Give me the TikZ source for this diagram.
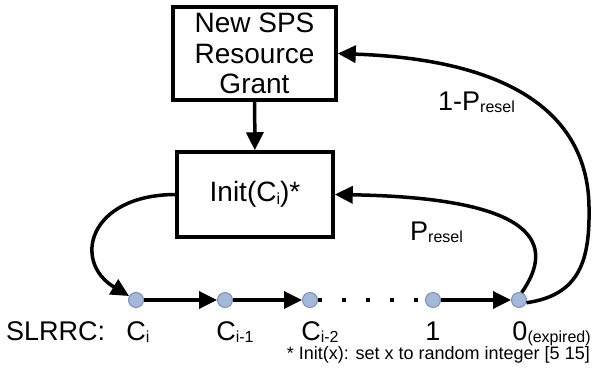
\documentclass[tikz,border=0pt]{standalone}
\usepackage{fontspec}
\setmainfont{Liberation Sans}
\usetikzlibrary{arrows.meta}
\definecolor{dotfill}{RGB}{164,184,216}
\definecolor{dotdraw}{RGB}{120,145,190}
\newcommand{\mysub}[1]{\raisebox{-2.5pt}{\fontsize{16}{16}\selectfont #1}}
\begin{document}
\begin{tikzpicture}[x=1pt,y=-1pt,
  box/.style={draw, line width=3.5pt, align=center, inner sep=0pt,
    font=\fontsize{28}{30.5}\selectfont},
  state/.style={circle, draw=dotdraw, fill=dotfill, line width=1pt,
    minimum size=15pt, inner sep=0pt},
  arr/.style={line width=3.5pt, -{Triangle[length=18pt,width=17pt]}},
  dotline/.style={line width=4pt, dash pattern=on 4pt off 20pt},
  lbl/.style={font=\fontsize{27}{30}\selectfont, inner sep=0pt},
  foot/.style={font=\fontsize{18}{20}\selectfont, inner sep=0pt}]
\useasboundingbox (0,0) rectangle (592,378);
\node[box, minimum width=163pt, minimum height=93pt] (grant) at (254.5,53.5) {New SPS\\Resource\\Grant};
\node[box, minimum width=156pt, minimum height=85pt] (init) at (255,194.5) {Init(C\mysub{i})*};
\node[state] (c1) at (136,300) {};
\node[state] (c2) at (225,300) {};
\node[state] (c3) at (310,300) {};
\node[state] (c4) at (433,300) {};
\node[state] (c5) at (519,300) {};
\draw[arr] (grant) -- (init);
\draw[arr] (c1) -- (c2);
\draw[arr] (c2) -- (c3);
\draw[dotline] (c3) -- (c4);
\draw[arr] (c4) -- (c5);
\draw[arr] (init.west) .. controls (88,195) and (72,262) .. (c1.150);
\draw[arr] (c5.70) .. controls (555,245) and (540,198) .. (init.east);
\draw[arr] (c5.-20) .. controls (580,295) and (590,260) .. (589,207)
  .. controls (588,120) and (520,60) .. (grant.east);
\node[lbl, anchor=base west] (p1) at (438,110) {1-P\mysub{resel}};
\node[lbl, anchor=base west] (p2) at (410,240) {P\mysub{resel}};
\node[lbl, anchor=base west] (slrrc) at (6,340) {SLRRC:};
\node[lbl, anchor=base] (l1) at (136,340) {C\rlap{\mysub{i}}};
\node[lbl, anchor=base] (l2) at (226,340) {C\rlap{\mysub{i-1}}};
\node[lbl, anchor=base] (l3) at (311,340) {C\rlap{\mysub{i-2}}};
\node[lbl, anchor=base] (l4) at (433,340) {1};
\node[lbl, anchor=base] (l5) at (520,340) {0\rlap{\mysub{(expired)}}};
\node[foot, anchor=base east] (fn) at (590,359) {* Init(x): set x to random integer [5 15]};
\end{tikzpicture}
\end{document}
